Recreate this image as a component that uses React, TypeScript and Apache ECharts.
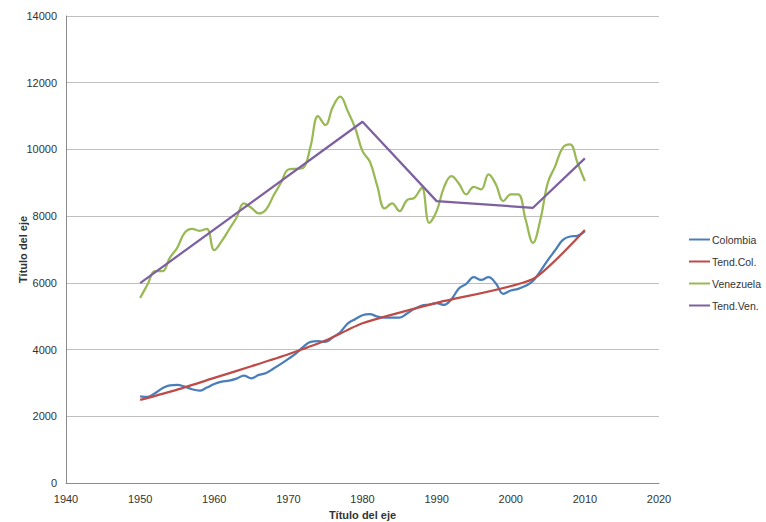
import React, { useEffect, useRef } from "react";
import * as echarts from "echarts";

const years: number[] = [];
for (let y = 1950; y <= 2010; y++) years.push(y);

const colombia = [
  2600, 2580, 2690, 2840, 2930, 2940, 2890, 2810, 2770, 2860,
  2970, 3040, 3070, 3130, 3220, 3140, 3240, 3300, 3430, 3570,
  3720, 3880, 4080, 4230, 4250, 4230, 4370, 4520, 4780, 4910,
  5030, 5060, 4990, 4960, 4960, 4960, 5080, 5220, 5320, 5350,
  5390, 5340, 5510, 5830, 5970, 6170, 6090, 6170, 5980, 5670,
  5770, 5820, 5910, 6060, 6350, 6680, 6980, 7280, 7390, 7410,
  7550,
];

const venezuela = [
  5550, 5950, 6350, 6350, 6750, 7050, 7500, 7620, 7560, 7620,
  6980, 7250, 7600, 7950, 8380, 8250, 8080, 8200, 8620, 9000,
  9400, 9420, 9450, 10100, 11000, 10730, 11280, 11580, 11150, 10650,
  9950, 9630, 8900, 8230, 8380, 8150, 8480, 8550, 8850, 7800,
  8150, 8870, 9200, 8980, 8650, 8880, 8800, 9250, 8950, 8450,
  8650, 8650, 7900, 7200, 7900, 9000, 9500, 10050, 10150, 9600,
  9050,
];

const tendColYears = [1950, 1955, 1960, 1965, 1970, 1975, 1980, 1990, 2003, 2010];
const tendColValues = [2490, 2800, 3150, 3500, 3860, 4270, 4790, 5400, 6115, 7585];

const tendVenYears = [1950, 1980, 1990, 2003, 2010];
const tendVenValues = [5990, 10830, 8450, 8250, 9730];

const xTicks = { min: 1940, max: 2020, interval: 10 };
const yTicks = { min: 0, max: 14000, interval: 2000 };

const FONT = "'Liberation Sans', Arial, sans-serif";

function pairs(xs: number[], ys: number[]) {
  return xs.map((x, i) => [x, ys[i]]);
}

export default function App() {
  const ref = useRef<HTMLDivElement>(null);
  useEffect(() => {
    if (!ref.current) return;
    const chart = echarts.init(ref.current, null, { renderer: "svg" });
    chart.setOption({
      animation: false,
      backgroundColor: "#ffffff",
      textStyle: { fontFamily: FONT },
      grid: { left: 66, right: 107, top: 16, bottom: 39, containLabel: false, outerBoundsMode: "none" },
      legend: {
        orient: "vertical",
        left: 684,
        top: 229,
        icon: "rect",
        itemWidth: 21,
        itemHeight: 2,
        itemGap: 11,
        textStyle: { fontFamily: FONT, fontSize: 10.5, color: "#333", padding: [0, 0, 0, -3] },
        data: ["Colombia", "Tend.Col.", "Venezuela", "Tend.Ven."],
      },
      xAxis: {
        type: "value",
        min: xTicks.min,
        max: xTicks.max,
        interval: xTicks.interval,
        name: "Título del eje",
        nameLocation: "middle",
        nameGap: 26,
        nameMoveOverlap: false,
        nameTextStyle: { fontFamily: FONT, fontSize: 11, fontWeight: "bold", color: "#333" },
        axisLine: { show: true, lineStyle: { color: "#8c8c8c", width: 1 } },
        axisTick: { show: false },
        splitLine: { show: false },
        axisLabel: { fontFamily: FONT, fontSize: 11, color: "#333", margin: 10, formatter: (v: number) => String(v) },
      },
      yAxis: {
        type: "value",
        min: yTicks.min,
        max: yTicks.max,
        interval: yTicks.interval,
        name: "Título del eje",
        nameLocation: "middle",
        nameGap: 38,
        nameMoveOverlap: false,
        nameRotate: 90,
        nameTextStyle: { fontFamily: FONT, fontSize: 11, fontWeight: "bold", color: "#333" },
        axisLine: { show: true, lineStyle: { color: "#8c8c8c", width: 1 } },
        axisTick: { show: false },
        splitLine: { show: true, lineStyle: { color: "#bfbfbf", width: 1 } },
        axisLabel: { fontFamily: FONT, fontSize: 11, color: "#333", margin: 9, formatter: (v: number) => String(v) },
      },
      series: [
        {
          name: "Colombia",
          type: "line",
          smooth: 0.4,
          showSymbol: false,
          data: pairs(years, colombia),
          lineStyle: { color: "#4a7ebb", width: 2.25 },
          itemStyle: { color: "#4a7ebb" },
          z: 3,
        },
        {
          name: "Tend.Col.",
          type: "line",
          smooth: 0.2,
          showSymbol: false,
          data: pairs(tendColYears, tendColValues),
          lineStyle: { color: "#be4b48", width: 2.25 },
          itemStyle: { color: "#be4b48" },
          z: 4,
        },
        {
          name: "Venezuela",
          type: "line",
          smooth: 0.4,
          showSymbol: false,
          data: pairs(years, venezuela),
          lineStyle: { color: "#98b954", width: 2.25 },
          itemStyle: { color: "#98b954" },
          z: 3,
        },
        {
          name: "Tend.Ven.",
          type: "line",
          smooth: false,
          showSymbol: false,
          data: pairs(tendVenYears, tendVenValues),
          lineStyle: { color: "#7d60a0", width: 2.25 },
          itemStyle: { color: "#7d60a0" },
          z: 4,
        },
      ],
    });
    return () => chart.dispose();
  }, []);
  return <div ref={ref} style={{ width: 766, height: 522, position: "absolute", left: 0, top: 0 }} />;
}
